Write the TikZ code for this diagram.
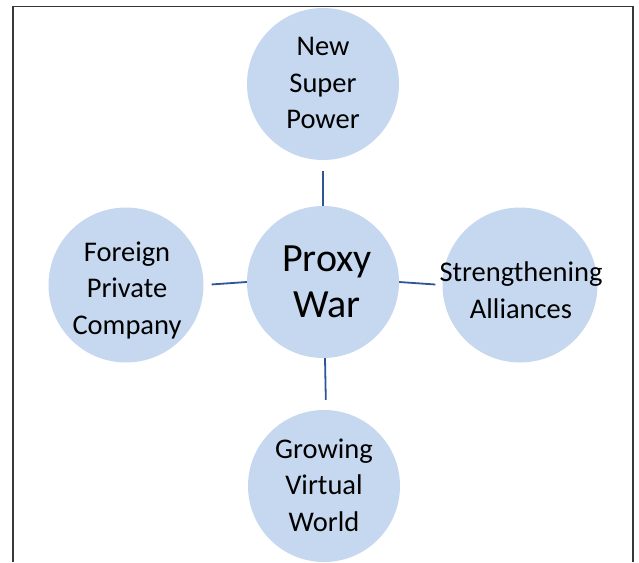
\documentclass[tikz,border=0pt]{standalone}
\usepackage{fontspec}
\setmainfont{Carlito}
\definecolor{bubblefill}{RGB}{198,216,239}
\definecolor{linkblue}{RGB}{47,85,151}
\definecolor{framegray}{RGB}{55,55,55}
\tikzset{
  bubble/.style={circle, fill=bubblefill, draw=none, inner sep=0pt, minimum size=152pt},
  txt/.style={align=center, inner sep=0pt, font=\fontsize{28.5}{36.5}\selectfont},
  bigtxt/.style={align=center, inner sep=0pt, font=\fontsize{40}{46}\selectfont},
  link/.style={draw=linkblue, line width=1.8pt}
}
\begin{document}
\begin{tikzpicture}[x=1pt, y=-1pt]
  \useasboundingbox (0,0) rectangle (639,562);
  % frame
  \draw[framegray, line width=1.6pt] (13,562) |- (633,6.5) -- (633,562);
  % bubbles
  \node[bubble] (pw) at (323,282) {};
  \node[bubble] (ns) at (323,84) {};
  \node[bubble, minimum size=155pt] (fp) at (126,285) {};
  \node[bubble, minimum size=155pt] (sa) at (520,285) {};
  \node[bubble] (gv) at (324,486) {};
  % texts
  \node[bigtxt] (pwt) at ([xshift=4]pw.center) {Proxy\\War};
  \node[txt] (nst) at ([yshift=1]ns.center) {New\\Super\\Power};
  \node[txt] (fpt) at ([xshift=1, yshift=-5]fp.center) {Foreign\\Private\\Company};
  \node[txt] (sat) at ([xshift=1, yshift=-5]sa.center) {Strengthening\\Alliances};
  \node[txt] (gvt) at ([yshift=1]gv.center) {Growing\\Virtual\\World};
  % connectors
  \draw[link, shorten >=11pt] (pw.north) -- (ns.south);
  \draw[link, shorten >=10pt] ([xshift=2]pw.south) -- ([xshift=2]gv.north);
  \draw[link, shorten >=8pt] (pw.west) -- (fp.east);
  \draw[link, shorten >=7pt] (pw.east) -- (sa.west);
\end{tikzpicture}
\end{document}
